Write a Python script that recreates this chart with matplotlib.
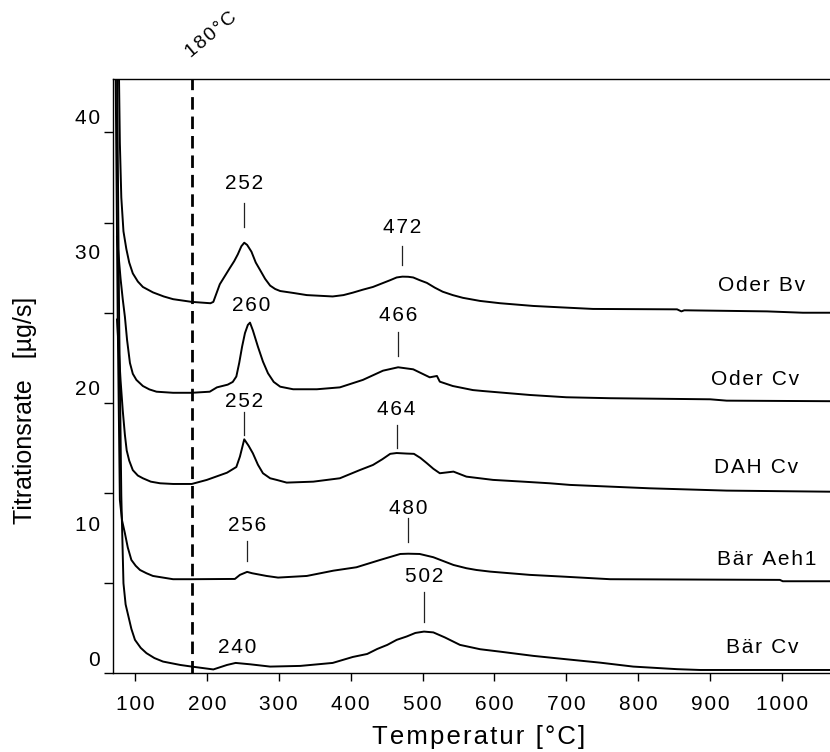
import matplotlib.pyplot as plt

plt.rcParams['font.family'] = ['Liberation Sans', 'DejaVu Sans']

# Titrationsrate (µg/s) über Temperatur (°C), Kurven vertikal versetzt
t_oder_bv = [77.5, 79, 81, 84, 88, 92, 97, 104, 111, 125, 140, 153, 179, 205, 209, 218, 225,
             232, 238, 243, 248, 252, 256, 262, 268, 274, 281, 288, 295, 302, 320, 339, 357,
             375, 390, 403, 417, 431, 443, 455, 464, 472, 480, 487, 496, 506, 517, 528, 542,
             556, 580, 608, 654, 691, 737, 854, 860, 864, 979, 1029, 1067]
v_oder_bv = [44, 38, 34, 31.5, 30.2, 29.2, 28.4, 27.8, 27.4, 27.0, 26.7, 26.5, 26.3, 26.2, 26.3,
             27.6, 28.2, 28.8, 29.3, 29.8, 30.4, 30.66, 30.5, 30.0, 29.2, 28.65, 28.0, 27.5,
             27.25, 27.1, 26.96, 26.8, 26.75, 26.7, 26.8, 26.98, 27.2, 27.4, 27.65, 27.9, 28.1,
             28.16, 28.15, 28.1, 27.9, 27.7, 27.35, 27.05, 26.8, 26.6, 26.37, 26.2, 26.0, 25.9,
             25.78, 25.75, 25.6, 25.68, 25.6, 25.5, 25.5]

t_oder_cv = [75, 80, 83, 86, 89, 93, 97, 102, 111, 120, 130, 153, 179, 204, 214, 229, 236,
             241, 245, 249, 253, 257, 260, 264, 271, 278, 285, 293, 302, 320, 353, 385, 417,
             445, 466, 487, 510, 520, 524, 542, 570, 584, 622, 649, 700, 761, 900, 923, 1067]
v_oder_cv = [31.1, 28.0, 26.5, 25.2, 23.5, 21.8, 21.0, 20.55, 20.1, 19.85, 19.68, 19.6, 19.6,
             19.68, 20.0, 20.2, 20.4, 20.8, 21.8, 23.0, 24.0, 24.6, 24.77, 24.2, 23.0, 21.9,
             21.04, 20.4, 20.05, 19.86, 19.86, 20.0, 20.55, 21.23, 21.48, 21.33, 20.74, 20.84,
             20.42, 20.1, 19.8, 19.73, 19.56, 19.44, 19.27, 19.2, 19.12, 19.02, 18.98]

t_dah_cv = [75, 80, 83, 86, 88.5, 92, 97, 104, 111, 122, 135, 153, 179, 200, 228, 241, 246,
            252, 258, 264, 271, 278, 288, 297, 311, 348, 385, 413, 431, 444, 455, 464, 478,
            488, 497, 506, 515, 524, 543, 561, 598, 640, 677, 705, 816, 923, 1067]
v_dah_cv = [25.0, 20.5, 18.3, 16.5, 15.35, 14.6, 13.9, 13.5, 13.3, 13.05, 12.93, 12.88, 12.88,
            13.18, 13.71, 14.13, 14.9, 16.17, 15.7, 15.14, 14.3, 13.67, 13.3, 13.18, 12.98,
            13.05, 13.3, 13.91, 14.28, 14.7, 15.1, 15.16, 15.12, 15.1, 14.8, 14.41, 14.0, 13.67,
            13.79, 13.42, 13.18, 13.05, 12.93, 12.81, 12.56, 12.39, 12.31]

t_baer_aeh1 = [73, 76, 79, 82, 86, 90, 95, 101, 107, 116, 125, 153, 179, 239, 246, 256, 263,
               283, 299, 339, 376, 408, 441, 469, 480, 496, 515, 543, 561, 575, 594, 649, 696,
               761, 997, 1001, 1067]
v_baer_aeh1 = [44, 25, 11.7, 10.2, 9.25, 8.2, 7.28, 6.85, 6.54, 6.3, 6.1, 5.86, 5.86, 5.88,
               6.18, 6.4, 6.3, 6.1, 5.98, 6.1, 6.49, 6.74, 7.28, 7.72, 7.74, 7.72, 7.48, 6.91,
               6.67, 6.54, 6.42, 6.18, 6.05, 5.86, 5.81, 5.71, 5.71]

t_baer_cv = [75, 78, 81, 84, 87, 91, 95, 100, 108, 116, 127, 139, 163, 179, 209, 228, 240,
             260, 288, 330, 375, 403, 423, 437, 451, 464, 478, 490, 502, 515, 531, 552, 580,
             608, 654, 700, 747, 793, 854, 886, 1067]
v_baer_cv = [44, 25, 12, 5.56, 4.0, 3.1, 2.2, 1.39, 0.8, 0.41, 0.05, -0.21, -0.46, -0.58, -0.79,
             -0.46, -0.31, -0.41, -0.58, -0.53, -0.31, 0.13, 0.35, 0.72, 1.02, 1.39, 1.64, 1.9,
             2.0, 1.94, 1.57, 1.02, 0.7, 0.52, 0.21, -0.04, -0.29, -0.58, -0.77, -0.83, -0.83]

series_names = ['Oder Bv', 'Oder Cv', 'DAH Cv', 'Bär Aeh1', 'Bär Cv']
peak_temps = [[252, 472], [260, 466], [252, 464], [256, 480], [240, 502]]

x_ticks = [100, 200, 300, 400, 500, 600, 700, 800, 900, 1000]
y_labels = [0, 10, 20, 30, 40]
t_marker = 180


def spaced(s):
    return '\u200a'.join(s)


fig = plt.figure(figsize=(8.3, 7.52), dpi=100)
ax = fig.add_axes([0.1361, 0.1051, 0.8639, 0.7899])

curves = [(t_oder_bv, v_oder_bv), (t_oder_cv, v_oder_cv), (t_dah_cv, v_dah_cv),
          (t_baer_aeh1, v_baer_aeh1), (t_baer_cv, v_baer_cv)]
for t, v in curves:
    ax.plot(t, v, color='black', lw=1.4, solid_joinstyle='round')

ax.axvline(t_marker, color='black', lw=2.0, dashes=(4.5, 2.5))
ax.text(t_marker + 27, 46.0, spaced(f'{t_marker}°C'), rotation=40, fontsize=14,
        ha='center', va='center', clip_on=False)

# Beschriftung der Maxima: (Text-y, Strich von, Strich bis)
peak_layout = [[(35.0, 33.6, 31.8), (31.8, 30.4, 29.0)],
               [(26.0, None, None), (25.3, 24.1, 22.3)],
               [(18.95, 18.2, 16.5), (18.4, 17.2, 15.5)],
               [(9.8, 8.7, 7.2), (11.1, 10.4, 8.6)],
               [(0.85, None, None), (6.05, 4.9, 2.7)]]
for temps, layout in zip(peak_temps, peak_layout):
    for tp, (ty, y0, y1) in zip(temps, layout):
        tx = tp + 2 if y0 is None else tp
        ax.text(tx, ty, spaced(str(tp)), fontsize=15, ha='center', va='center')
        if y0 is not None:
            ax.plot([tp, tp], [y0, y1], color='#222222', lw=0.9)

name_pos = [(971, 27.5), (962, 20.6), (964, 14.06), (978, 7.28), (972, 0.8)]
for name, (nx, ny) in zip(series_names, name_pos):
    ax.text(nx, ny, spaced(name), fontsize=15, ha='center', va='center')

ax.set_xlim(69.4, 1066.7)
ax.set_ylim(-1.05, 42.73)

ax.set_xticks(x_ticks)
ax.set_xticklabels([spaced(str(x)) for x in x_ticks], fontsize=15)
ax.tick_params(axis='x', direction='out', length=5.8, width=1.0, pad=10)

ax.set_yticks([-1.05 + 6.64 * k for k in range(7)])
ax.set_yticklabels([])
ax.set_yticks(y_labels, minor=True)
ax.set_yticklabels([spaced(str(y)) for y in y_labels], minor=True, fontsize=15)
ax.tick_params(axis='y', which='major', direction='out', length=6.5, width=1.0)
ax.tick_params(axis='y', which='minor', length=0, pad=9.4)

ax.spines['right'].set_visible(False)
for s in ['left', 'bottom', 'top']:
    ax.spines[s].set_linewidth(1.0)

fig.text(479 / 830, 1 - 737 / 752, spaced('Temperatur [°C]'), fontsize=18.5,
         ha='center', va='center')
fig.text(25 / 830, 1 - 410 / 752, 'Titrationsrate   [µg/s]', fontsize=18,
         rotation=90, ha='center', va='center')

fig.savefig('out.png', dpi=100)
